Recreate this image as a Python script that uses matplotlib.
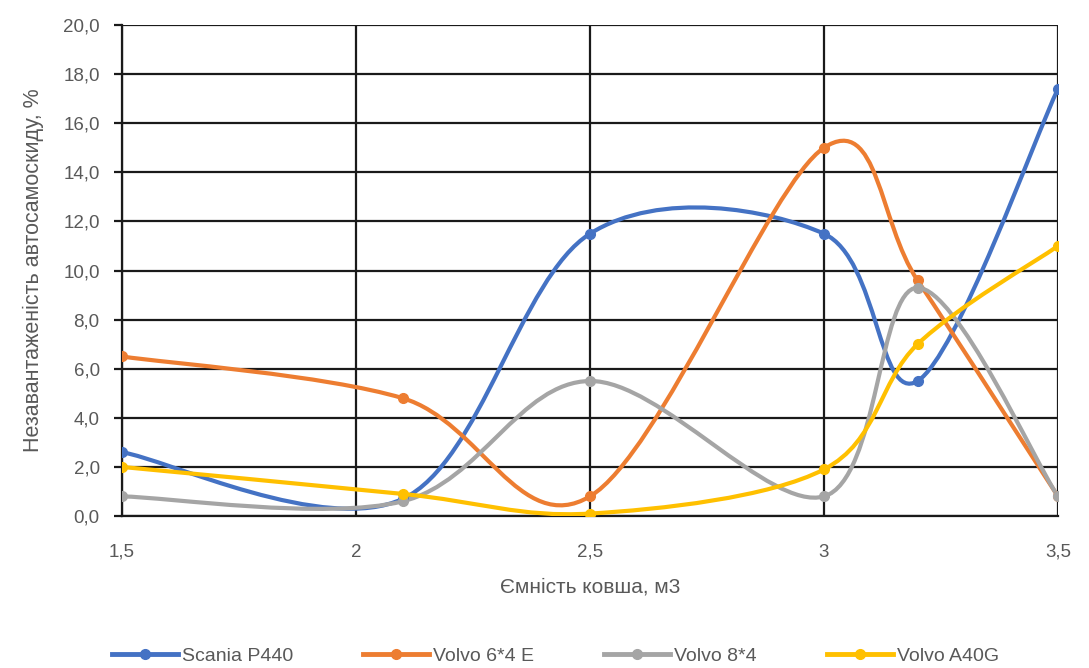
import numpy as np
import matplotlib.pyplot as plt
from matplotlib.path import Path
from matplotlib.patches import PathPatch
from matplotlib.lines import Line2D

plt.rcParams['font.family'] = ['Liberation Sans Narrow', 'Liberation Sans', 'DejaVu Sans']

# Bucket capacity, m3
capacity = [1.5, 2.1, 2.5, 3.0, 3.2, 3.5]

# Truck underload, %
scania_p440 = [2.6, 0.7, 11.5, 11.5, 5.5, 17.4]
volvo_64e = [6.5, 4.8, 0.8, 15.0, 9.6, 0.8]
volvo_84 = [0.8, 0.6, 5.5, 0.8, 9.3, 0.8]
volvo_a40g = [2.0, 0.9, 0.1, 1.9, 7.0, 11.0]

names = ['Scania P440', 'Volvo 6*4 E', 'Volvo 8*4', 'Volvo A40G']
colors = ['#4472C4', '#ED7D31', '#A5A5A5', '#FFC000']

x_ticks = [1.5, 2, 2.5, 3, 3.5]
x_ticklabels = ['1,5', '2', '2,5', '3', '3,5']
y_ticks = np.arange(0, 21, 2)


def smooth_path(xs, ys):
    # spreadsheet-style smoothed line: cubic Bezier with Catmull-Rom handles
    pts = np.column_stack([xs, ys]).astype(float)
    n = len(pts)
    verts = [pts[0]]
    codes = [Path.MOVETO]
    for i in range(n - 1):
        p0 = pts[i - 1] if i > 0 else pts[i]
        p1 = pts[i]
        p2 = pts[i + 1]
        p3 = pts[i + 2] if i + 2 < n else pts[i + 1]
        c1 = p1 + (p2 - p0) / 6
        c2 = p2 - (p3 - p1) / 6
        verts += [c1, c2, p2]
        codes += [Path.CURVE4] * 3
    return Path(verts, codes)


fig = plt.figure(figsize=(10.89, 6.68), dpi=100)
ax = fig.add_axes([0.112, 0.2275, 0.8595, 0.735])

series = [scania_p440, volvo_64e, volvo_84, volvo_a40g]
for vals, c in zip(series, colors):
    ax.add_patch(PathPatch(smooth_path(capacity, vals), fill=False,
                           edgecolor=c, linewidth=3, capstyle='round', zorder=3))
    ax.plot(capacity, vals, linestyle='none', marker='o', markersize=7,
            color=c, zorder=4)

ax.set_xlim(1.5, 3.5)
ax.set_ylim(0, 20)
ax.set_xticks(x_ticks)
ax.set_xticklabels(x_ticklabels)
ax.set_yticks(y_ticks)
ax.set_yticklabels([f'{v:.1f}'.replace('.', ',') for v in y_ticks])

ax.grid(True, color='#1a1a1a', linewidth=1.6, zorder=1)
ax.set_axisbelow(True)
for side in ['top', 'right']:
    ax.spines[side].set_visible(False)
for side in ['left', 'bottom']:
    ax.spines[side].set_color('#1a1a1a')
    ax.spines[side].set_linewidth(1.6)

ax.tick_params(axis='y', direction='out', length=6, width=1.6, color='#1a1a1a',
               labelsize=13.5, labelcolor='#595959', pad=10)
ax.tick_params(axis='x', length=0, labelsize=13.5, labelcolor='#595959', pad=20)

ax.set_xlabel('Ємність ковша, м3', fontsize=15, color='#595959', labelpad=12)
ax.set_ylabel('Незавантаженість автосамоскиду, %', fontsize=15.5, color='#595959',
              labelpad=14)

handles = [Line2D([0], [0], color=c, linewidth=3.5, marker='o', markersize=7)
           for c in colors]
fig.legend(handles, names, loc='lower center', bbox_to_anchor=(0.51, -0.022),
           ncol=4, frameon=False, fontsize=14, labelcolor='#595959',
           handlelength=3.4, handletextpad=0.2, columnspacing=3.6)

fig.savefig('out.png', dpi=100)
